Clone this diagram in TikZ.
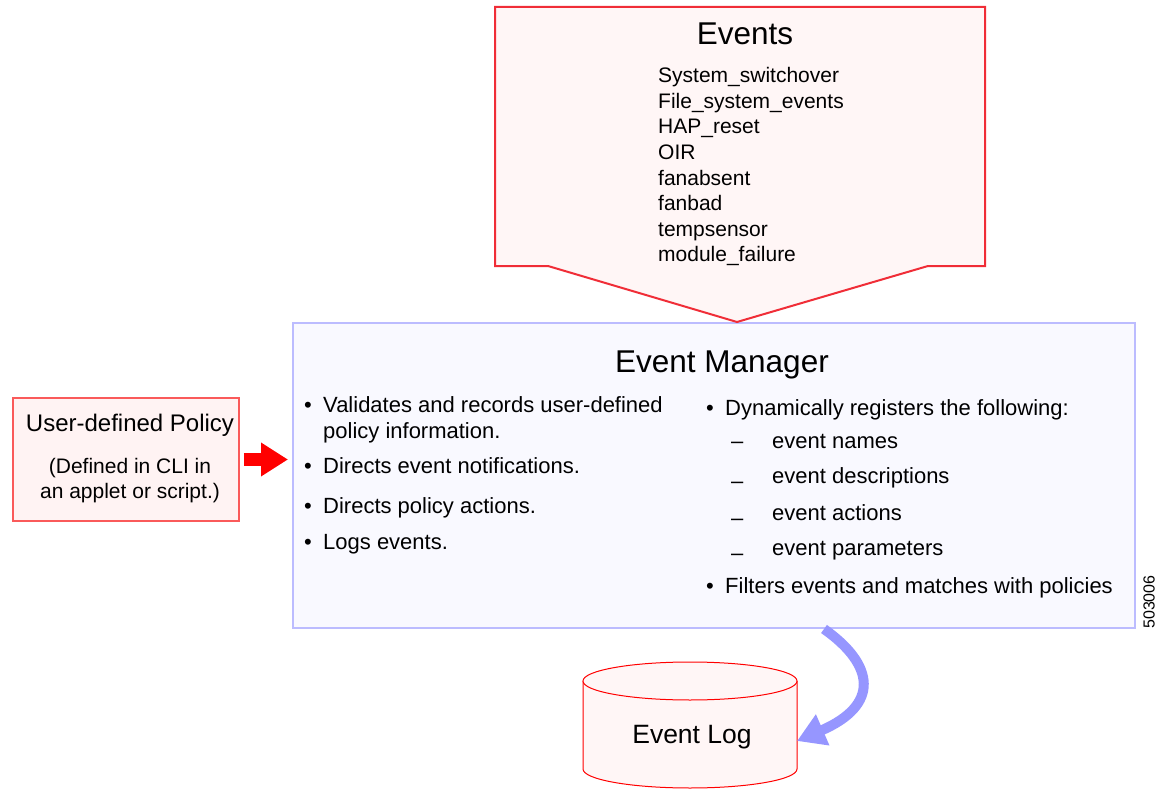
\documentclass[tikz,border=0pt]{standalone}
\usepackage{fontspec}
\setmainfont{Liberation Sans}
\usepackage{tikz}
\usetikzlibrary{arrows.meta, positioning, calc}

\definecolor{evred}{RGB}{240,45,55}
\definecolor{evpink}{RGB}{255,246,246}
\definecolor{polred}{RGB}{250,90,90}
\definecolor{polpink}{RGB}{255,243,243}
\definecolor{mgrblue}{RGB}{188,188,255}
\definecolor{mgrfill}{RGB}{249,249,255}
\definecolor{logblue}{RGB}{150,150,255}

\newcommand{\bul}{\makebox[19pt][l]{\textbullet}}
\newcommand{\dsh}[1]{\makebox[41pt][l]{\raisebox{#1}{–}}}

\tikzset{
    txt/.style={inner sep=0pt, anchor=base west, font=\fontsize{22}{26}\selectfont},
    evtxt/.style={inner sep=0pt, anchor=base west, font=\fontsize{21}{25}\selectfont},
    title/.style={inner sep=0pt, anchor=base, font=\fontsize{31.5}{36}\selectfont}
}

\begin{document}
\begin{tikzpicture}[x=1pt, y=-1pt]
    \useasboundingbox (0,0) rectangle (1165,789);

    % 事件管理器
    \node[draw=mgrblue, fill=mgrfill, line width=2pt, minimum width=842pt, minimum height=305pt, inner sep=0pt] (mgr) at (714,475.5) {};
    \node[title] (mgrtitle) at (722,372.7) {Event Manager};

    \node[txt] (a1) at (304,412) {\bul Validates and records user-defined};
    \node[txt] (a1b) at (323,438) {policy information.};
    \node[txt] (a2) at (304,473) {\bul Directs event notifications.};
    \node[txt] (a3) at (304,513) {\bul Directs policy actions.};
    \node[txt] (a4) at (304,549) {\bul Logs events.};

    \node[txt] (b1) at (706,415) {\bul Dynamically registers the following:};
    \node[txt] (b1a) at (731,448) {\dsh{0pt}event names};
    \node[txt] (b1b) at (731,483) {\dsh{-5pt}event descriptions};
    \node[txt] (b1c) at (731,520) {\dsh{-5pt}event actions};
    \node[txt] (b1d) at (731,555) {\dsh{-5pt}event parameters};
    \node[txt] (b2) at (706,593) {\bul Filters events and matches with policies};

    % 事件
    \draw[evred, fill=evpink, line width=2pt] (495,7) -- (985,7) -- (985,266) -- (928,266) -- (737,322) -- (548,266) -- (495,266) -- cycle;
    \node[title] (events) at (745,45) {Events};
    \foreach \ev [count=\i from 0] in {System\_switchover, File\_system\_events, HAP\_reset, OIR, fanabsent, fanbad, tempsensor, module\_failure} {
        \node[evtxt] (ev\i) at (658, 82.7+25.6*\i) {\ev};
    }

    % 用户策略
    \node[draw=polred, fill=polpink, line width=1.5pt, minimum width=226pt, minimum height=123pt, inner sep=0pt] (policy) at (126,459.5) {};
    \node[inner sep=0pt, anchor=base, font=\fontsize{24}{28}\selectfont] (poltitle) at (130,431.7) {User-defined Policy};
    \node[inner sep=0pt, anchor=base, font=\fontsize{21}{25}\selectfont] (polnote1) at (130,473) {(Defined in CLI in};
    \node[inner sep=0pt, anchor=base, font=\fontsize{21}{25}\selectfont] (polnote2) at (130,498) {an applet or script.)};
    \draw[red, line width=13pt, shorten <=4pt, shorten >=4pt, -{Triangle[length=27pt,width=32pt]}] (policy.east) -- (policy.east -| mgr.west);

    % 事件日志
    \draw[red, fill=evpink, line width=1pt] (583,681) -- (583,769) arc[start angle=180, end angle=0, x radius=107, y radius=19] -- (797,681);
    \draw[red, fill=evpink, line width=1pt] (690,681) ellipse[x radius=107, y radius=19];
    \node[inner sep=0pt, anchor=base, font=\fontsize{26.5}{30}\selectfont] (log) at (692,743) {Event Log};
    \coordinate (logedge) at (797,741);
    \draw[logblue, line width=10pt, -{Triangle[length=28pt,width=32pt]}] ([xshift=110pt]mgr.south) .. controls (875,665) and (880,705) .. (logedge);

    \node[inner sep=0pt, rotate=90, font=\fontsize{16}{18}\selectfont] (fignum) at (1149,602) {503006};
\end{tikzpicture}
\end{document}
